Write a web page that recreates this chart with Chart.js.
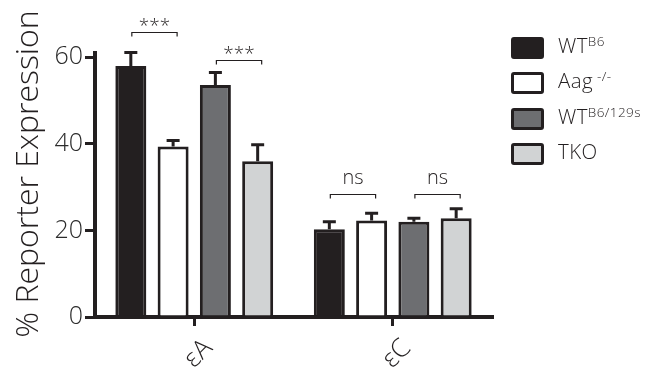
<!DOCTYPE html>
<html>
<head>
<meta charset="utf-8">
<script src="https://cdn.jsdelivr.net/npm/chart.js@4"></script>
<style>
  html, body { margin: 0; padding: 0; background: #fff; }
  #wrap { position: relative; width: 651px; height: 372px; }
  #legend { position: absolute; left: 511px; top: 37px; font-family: "Open Sans", sans-serif; font-weight: 300; color: #231f20; }
  .row { position: absolute; left: 0; height: 22px; white-space: nowrap; }
  .box { position: absolute; left: 0; top: 0; width: 27px; height: 16px; border: 3px solid #231f20; border-radius: 3px; }
  .lbl { position: absolute; left: 47px; top: -6px; font-size: 20.5px; line-height: 28px; letter-spacing: 0.4px; }
  .lbl sup { font-size: 13.5px; vertical-align: 0; position: relative; top: -7px; }
</style>
</head>
<body>
<div id="wrap">
  <canvas id="c" width="651" height="372"></canvas>
  <div id="legend"></div>
</div>
<script>
// ---- data ----
const categories = ['\u03b5A', '\u03b5C'];
const seriesBase = ['WT', 'Aag', 'WT', 'TKO'];
const seriesSup  = ['B6', ' -/-', 'B6/129s', ''];
const seriesColors = ['#231f20', '#ffffff', '#6d6e71', '#d1d3d4'];
const wtB6     = [58.0, 20.3];
const aag      = [39.4, 22.3];
const wtB6129s = [53.6, 22.0];
const tko      = [36.0, 22.8];
const wtB6Err     = [3.1, 1.7];
const aagErr      = [1.4, 1.7];
const wtB6129sErr = [2.9, 0.8];
const tkoErr      = [3.8, 2.2];
const yTicks = [0, 20, 40, 60];
const yMax = 61;
// significance: [categoryIndex, datasetA, datasetB]
const sigPairs  = [[0, 0, 1], [0, 2, 3], [1, 0, 1], [1, 2, 3]];
const sigLabels = ['***', '***', 'ns', 'ns'];
const sigLevels = [65.8, 59.4, 28.5, 28.5];
const yTitle = '% Reporter Expression';

const values = [wtB6, aag, wtB6129s, tko];
const errors = [wtB6Err, aagErr, wtB6129sErr, tkoErr];
const INK = '#231f20';
const FONT = '"Open Sans", sans-serif';

// legend (HTML for superscripts)
const legendEl = document.getElementById('legend');
seriesBase.forEach((b, i) => {
  const row = document.createElement('div');
  row.className = 'row';
  row.style.top = (i * 35.3) + 'px';
  const box = document.createElement('div');
  box.className = 'box';
  box.style.background = seriesColors[i];
  const lbl = document.createElement('div');
  lbl.className = 'lbl';
  lbl.textContent = b;
  if (seriesSup[i]) {
    const s = document.createElement('sup');
    s.textContent = seriesSup[i];
    lbl.appendChild(s);
  }
  row.appendChild(box);
  row.appendChild(lbl);
  legendEl.appendChild(row);
});

const extras = {
  id: 'extras',
  afterDatasetsDraw(chart) {
    const ctx = chart.ctx;
    const y = chart.scales.y;
    ctx.save();
    // error bars
    ctx.strokeStyle = INK;
    ctx.lineWidth = 3;
    values.forEach((vals, di) => {
      const meta = chart.getDatasetMeta(di);
      meta.data.forEach((el, k) => {
        const top = y.getPixelForValue(vals[k] + errors[di][k]);
        ctx.beginPath();
        ctx.moveTo(el.x, el.y);
        ctx.lineTo(el.x, top);
        ctx.moveTo(el.x - 6.5, top);
        ctx.lineTo(el.x + 6.5, top);
        ctx.stroke();
      });
    });
    // significance brackets
    ctx.lineWidth = 1.2;
    ctx.fillStyle = INK;
    ctx.textAlign = 'center';
    sigPairs.forEach((p, i) => {
      const a = chart.getDatasetMeta(p[1]).data[p[0]];
      const b = chart.getDatasetMeta(p[2]).data[p[0]];
      const x1 = a.x + 1, x2 = b.x + 4;
      const yy = Math.round(y.getPixelForValue(sigLevels[i])) + 0.5;
      ctx.beginPath();
      ctx.moveTo(x1, yy + 4);
      ctx.lineTo(x1, yy);
      ctx.lineTo(x2, yy);
      ctx.lineTo(x2, yy + 4);
      ctx.stroke();
      ctx.textBaseline = 'alphabetic';
      if (sigLabels[i] === 'ns') {
        ctx.font = '300 20px ' + FONT;
        ctx.fillText(sigLabels[i], (x1 + x2) / 2, yy - 11);
      } else {
        ctx.font = '300 19px ' + FONT;
        ctx.fillText(sigLabels[i], (x1 + x2) / 2, yy - 1);
      }
    });
    // y title
    ctx.font = '300 32px ' + FONT;
    ctx.textBaseline = 'middle';
    ctx.translate(29, 174);
    ctx.rotate(-Math.PI / 2);
    ctx.fillText(yTitle, 0, 0);
    ctx.restore();
  }
};

new Chart(document.getElementById('c'), {
  type: 'bar',
  data: {
    labels: categories,
    datasets: values.map((v, i) => ({
      label: seriesBase[i] + seriesSup[i],
      data: v,
      backgroundColor: seriesColors[i],
      borderColor: INK,
      borderWidth: 3,
      borderSkipped: 'start',
      categoryPercentage: 0.852,
      barPercentage: 0.733
    }))
  },
  options: {
    responsive: false,
    animation: false,
    devicePixelRatio: 1,
    layout: { padding: { top: 53, right: 159, left: 0, bottom: 0 } },
    plugins: { legend: { display: false }, tooltip: { enabled: false } },
    scales: {
      x: {
        afterFit(s) { s.height = 55; },
        grid: { offset: false, drawOnChartArea: false, tickLength: 9, lineWidth: 3, color: INK },
        border: { display: true, width: 4, color: INK },
        ticks: { minRotation: 45, maxRotation: 45, padding: 7, labelOffset: 14, color: INK, font: { family: 'Open Sans', size: 26, weight: '300' } }
      },
      y: {
        min: 0,
        max: yMax,
        afterFit(s) { s.width = 95; },
        afterBuildTicks(s) { s.ticks = yTicks.map(v => ({ value: v })); },
        grid: { drawOnChartArea: false, tickLength: 10, lineWidth: 3, color: INK },
        border: { display: true, width: 4, color: INK },
        ticks: { padding: 2, color: '#2b2b2b', font: { family: 'Open Sans', size: 25, weight: '300' } }
      }
    }
  },
  plugins: [extras]
});
</script>
</body>
</html>
